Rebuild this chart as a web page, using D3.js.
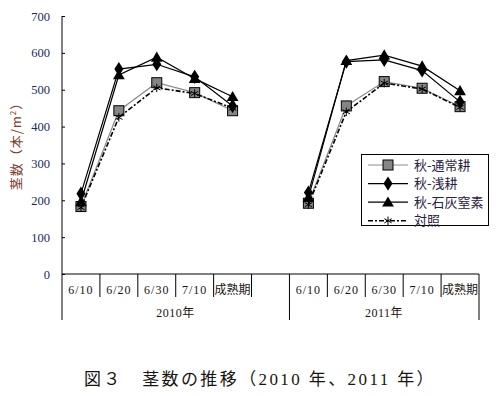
<!DOCTYPE html>
<html>
<head>
<meta charset="utf-8">
<script src="https://cdn.jsdelivr.net/npm/d3@7"></script>
<style>
  body { margin: 0; background: #fff; }
  svg { display: block; }
</style>
</head>
<body>
<div id="chart"></div>
<script>
// data
const years = ["2010年", "2011年"];
const stages = ["6/10", "6/20", "6/30", "7/10", "成熟期"];
const yTicks = [0, 100, 200, 300, 400, 500, 600, 700];

const seriesNames = ["秋-通常耕", "秋-浅耕", "秋-石灰窒素", "対照"];
const tsujo2010 = [183, 443, 519, 492, 443];
const tsujo2011 = [192, 456, 522, 504, 454];
const asai2010 = [218, 556, 569, 535, 456];
const asai2011 = [221, 576, 581, 552, 467];
const sekkai2010 = [196, 540, 588, 530, 481];
const sekkai2011 = [207, 579, 594, 564, 497];
const taisho2010 = [180, 425, 505, 490, 450];
const taisho2011 = [188, 440, 518, 502, 452];

const W = 501, H = 396;
const serif = "'Liberation Serif', 'DejaVu Serif', 'Noto Sans CJK JP', serif";
const gothic = "'Noto Sans CJK JP', sans-serif";

const svg = d3.select("#chart").append("svg")
  .attr("width", W).attr("height", H);

// 11 slots: 5 stages, an empty gap, 5 stages
const slots = [];
stages.forEach(s => slots.push("2010|" + s));
slots.push("gap");
stages.forEach(s => slots.push("2011|" + s));

const x = d3.scaleBand().domain(slots).range([62, 479]).paddingInner(0).paddingOuter(0);
const y = d3.scaleLinear().domain([0, 700]).range([274, 16]);

const cx = key => x(key) + x.bandwidth() / 2;

// y axis
const yAxis = svg.append("g").attr("transform", "translate(62,0)")
  .call(d3.axisLeft(y).tickValues(yTicks).tickSize(-3).tickPadding(12));
yAxis.select(".domain").attr("stroke", "#000").attr("d", `M0,${y(700)}V${y(0)}`);
yAxis.selectAll(".tick line").attr("stroke", "#000");
yAxis.selectAll(".tick text")
  .attr("font-family", serif).attr("font-size", 12.5).attr("fill", "#1c2a5e");

// y label
svg.append("text")
  .attr("transform", "translate(21,143) rotate(-90)")
  .attr("text-anchor", "middle")
  .attr("font-family", gothic).attr("font-size", 13).attr("fill", "#7a4030")
  .attr("letter-spacing", 1)
  .call(t => {
    t.append("tspan").text("茎数（本/m");
    t.append("tspan").attr("font-size", 8).attr("dy", -5).text("2");
    t.append("tspan").attr("dy", 5).text("）");
  });

// x axis line
svg.append("line")
  .attr("x1", 62).attr("x2", 479).attr("y1", y(0)).attr("y2", y(0))
  .attr("stroke", "#000");

// slot separators
const bounds = slots.map(k => x(k)).concat([479]);
bounds.forEach((bx, i) => {
  const isGroup = (i === 0 || i === 6 || i === 11);
  svg.append("line")
    .attr("x1", bx).attr("x2", bx)
    .attr("y1", y(0)).attr("y2", isGroup ? 320 : 297)
    .attr("stroke", "#000");
});

// stage labels
slots.filter(k => k !== "gap").forEach(k => {
  const lab = k.split("|")[1];
  svg.append("text")
    .attr("x", cx(k)).attr("y", 294)
    .attr("text-anchor", "middle")
    .attr("font-family", serif).attr("font-size", 12).attr("fill", "#1a1410")
    .attr("letter-spacing", lab.length === 4 ? 1 : 0)
    .text(lab);
});

// year labels
[[62, 289], [289, 479]].forEach((r, i) => {
  svg.append("text")
    .attr("x", (r[0] + r[1]) / 2).attr("y", 317)
    .attr("text-anchor", "middle")
    .attr("font-family", serif).attr("font-size", 12).attr("fill", "#1a1410")
    .attr("letter-spacing", 0.5)
    .text(years[i]);
});

// series
const series = [
  { name: seriesNames[0], v: [tsujo2010, tsujo2011], stroke: "#8c8c8c", dash: null, mark: "square" },
  { name: seriesNames[1], v: [asai2010, asai2011], stroke: "#000", dash: null, mark: "diamond" },
  { name: seriesNames[2], v: [sekkai2010, sekkai2011], stroke: "#000", dash: null, mark: "triangle" },
  { name: seriesNames[3], v: [taisho2010, taisho2011], stroke: "#000", dash: "5,2,2,2", mark: "star" }
];

const line = d3.line().x(d => d.x).y(d => d.y);

function drawMarker(g, type, px, py) {
  if (type === "square") {
    g.append("rect").attr("x", px - 5).attr("y", py - 5).attr("width", 10).attr("height", 10)
      .attr("fill", "#858585").attr("stroke", "#000").attr("stroke-width", 1);
  } else if (type === "diamond") {
    g.append("path").attr("d", d3.symbol(d3.symbolDiamond, 64)())
      .attr("transform", `translate(${px},${py}) scale(1.05,0.95)`).attr("fill", "#000");
  } else if (type === "triangle") {
    g.append("path").attr("d", d3.symbol(d3.symbolTriangle, 60)())
      .attr("transform", `translate(${px},${py + 1})`).attr("fill", "#000");
  } else {
    g.append("path").attr("d", d3.symbol(d3.symbolAsterisk, 50)())
      .attr("transform", `translate(${px},${py})`)
      .attr("fill", "none").attr("stroke", "#000").attr("stroke-width", 1);
  }
}

const plot = svg.append("g");
series.forEach(s => {
  ["2010", "2011"].forEach((yr, yi) => {
    const pts = stages.map((st, i) => ({ x: cx(yr + "|" + st), y: y(s.v[yi][i]) }));
    plot.append("path").datum(pts)
      .attr("d", line).attr("fill", "none")
      .attr("stroke", s.stroke).attr("stroke-width", s.dash ? 1.6 : 1.2)
      .attr("stroke-dasharray", s.dash);
    pts.forEach(p => drawMarker(plot, s.mark, p.x, p.y));
  });
});

// legend
const lg = svg.append("g");
lg.append("rect").attr("x", 361.5).attr("y", 154.5).attr("width", 127).attr("height", 71)
  .attr("fill", "#fff").attr("stroke", "#000");
series.forEach((s, i) => {
  const ly = 165 + i * 18.6;
  lg.append("line").attr("x1", 368).attr("x2", 408).attr("y1", ly).attr("y2", ly)
    .attr("stroke", s.stroke).attr("stroke-width", s.dash ? 1.6 : 1.2)
    .attr("stroke-dasharray", s.dash);
  drawMarker(lg, s.mark, 388, ly);
  lg.append("text").attr("x", 414).attr("y", ly + 4.5)
    .attr("font-family", gothic).attr("font-size", 13).attr("fill", "#2a2040")
    .text(s.name);
});

// caption
svg.append("text")
  .attr("x", 260).attr("y", 385)
  .attr("text-anchor", "middle")
  .attr("font-family", serif).attr("font-size", 17).attr("fill", "#1a1410")
  .attr("letter-spacing", 2.4)
  .text("図３　茎数の推移（2010 年、2011 年）");
</script>
</body>
</html>
